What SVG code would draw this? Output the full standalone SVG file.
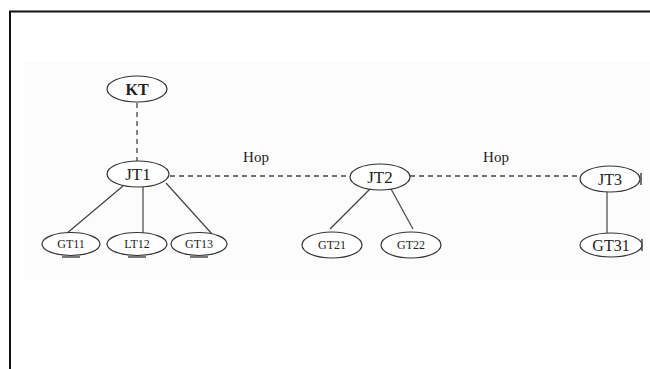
<svg xmlns="http://www.w3.org/2000/svg" width="650" height="369" viewBox="0 0 650 369">
<style>
.n{fill:#fff;stroke:#333;stroke-width:1.2}
.t{font-family:"Liberation Serif","Times New Roman",serif;fill:#222;text-anchor:middle}
.big{font-size:15px}
.sm{font-size:12px}
.solid{stroke:#444;stroke-width:1.2;fill:none}
.dash{stroke:#444;stroke-width:1.3;stroke-dasharray:5,4;fill:none}
.mk{stroke:#333;stroke-width:1.3}
</style>
<rect x="0" y="0" width="650" height="369" fill="#fff"/>
<rect x="24" y="62" width="626" height="218" fill="#fcfcfc"/>
<path d="M10 369 V11.5 H650" fill="none" stroke="#111" stroke-width="2"/>
<g id="connectors">
<line class="dash" x1="137" y1="103" x2="137" y2="161"/>
<line class="dash" x1="170" y1="176" x2="350" y2="176"/>
<line class="dash" x1="410" y1="176" x2="580" y2="176"/>
<line class="solid" x1="123" y1="186" x2="66" y2="234"/>
<line class="solid" x1="143" y1="187" x2="143" y2="233"/>
<line class="solid" x1="166" y1="183" x2="212" y2="234"/>
<line class="solid" x1="370" y1="189" x2="330" y2="229"/>
<line class="solid" x1="391" y1="189" x2="413" y2="229"/>
<line class="solid" x1="607" y1="189" x2="607" y2="233"/>
<text class="t big" x="256" y="162">Hop</text>
<text class="t big" x="496" y="162">Hop</text>
</g>
<g id="KT"><ellipse class="n" cx="137" cy="89" rx="30" ry="13"/><text class="t" x="137" y="95" font-size="16" font-weight="bold">KT</text></g>
<g id="JT1"><ellipse class="n" cx="138" cy="174" rx="31" ry="13"/><text class="t" x="138" y="180" font-size="17">JT1</text></g>
<g id="JT2"><ellipse class="n" cx="380" cy="177" rx="30" ry="13"/><text class="t" x="380" y="183" font-size="17">JT2</text></g>
<g id="JT3"><ellipse class="n" cx="610" cy="179" rx="30" ry="13"/><text class="t" x="610" y="185" font-size="16">JT3</text><path d="M641 173 V185" stroke="#444" stroke-width="1.5"/></g>
<g id="GT11"><ellipse class="n" cx="71" cy="244" rx="29" ry="11.5"/><text class="t sm" x="71" y="248">GT11</text><path class="mk" d="M62 257 H80"/></g>
<g id="LT12"><ellipse class="n" cx="137" cy="244" rx="30" ry="11.5"/><text class="t sm" x="137" y="248">LT12</text><path class="mk" d="M128 257 H146"/></g>
<g id="GT13"><ellipse class="n" cx="199" cy="244" rx="28" ry="11.5"/><text class="t sm" x="199" y="248">GT13</text><path class="mk" d="M190 257 H208"/></g>
<g id="GT21"><ellipse class="n" cx="332" cy="245" rx="30" ry="13"/><text class="t sm" x="332" y="249">GT21</text></g>
<g id="GT22"><ellipse class="n" cx="411" cy="245" rx="30" ry="13"/><text class="t sm" x="411" y="249">GT22</text></g>
<g id="GT31"><ellipse class="n" cx="611" cy="245" rx="31" ry="12"/><text class="t" x="611" y="251" font-size="16">GT31</text><path d="M642 239 V251" stroke="#444" stroke-width="1.5"/></g>
</svg>
